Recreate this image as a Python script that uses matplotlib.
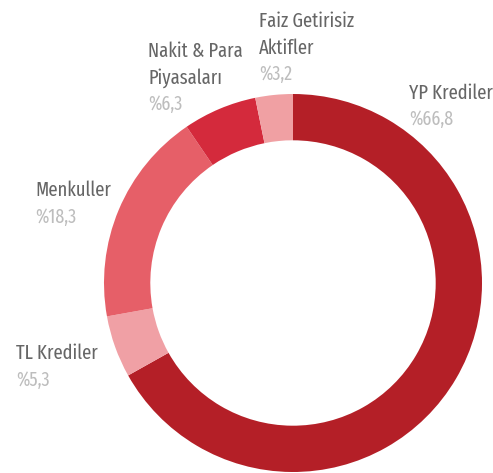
import matplotlib
matplotlib.use("Agg")
import matplotlib.pyplot as plt

categories = ["YP Krediler", "TL Krediler", "Menkuller", "Nakit & Para\nPiyasaları", "Faiz Getirisiz\nAktifler"]
values = [66.8, 5.3, 18.3, 6.3, 3.2]
value_labels = ["%66,8", "%5,3", "%18,3", "%6,3", "%3,2"]
colors = ["#B41F27", "#F0A0A5", "#E65F68", "#D42A3C", "#F0A0A3"]

W, H = 493, 473
fig = plt.figure(figsize=(W / 100, H / 100), dpi=100)
cx, cy, R = 293, 283, 189
ax = fig.add_axes([(cx - R) / W, (H - cy - R) / H, 2 * R / W, 2 * R / H])
ax.pie(values, colors=colors, startangle=90, counterclock=False,
       wedgeprops=dict(width=0.245, linewidth=0), radius=1.0)
ax.set_xlim(-1, 1)
ax.set_ylim(-1, 1)
ax.set_aspect("equal")
ax.axis("off")

font = ["Fira Sans Extra Condensed", "DejaVu Sans"]
# label positions in pixels (x left, baseline of first line)
label_pos = [(409, 99), (16, 359), (35, 196), (148, 57), (259, 27)]
line_h = 26.5
for cat, val, (x, y) in zip(categories, value_labels, label_pos):
    lines = cat.split("\n")
    for i, ln in enumerate(lines):
        fig.text(x / W, 1 - (y + i * line_h) / H, ln, ha="left", va="baseline",
                 fontsize=14.5, color="#666666", family=font)
    fig.text(x / W, 1 - (y + len(lines) * line_h) / H, val, ha="left", va="baseline",
             fontsize=14, color="#BDBDBD", family=font)

fig.savefig("out.png", dpi=100)
